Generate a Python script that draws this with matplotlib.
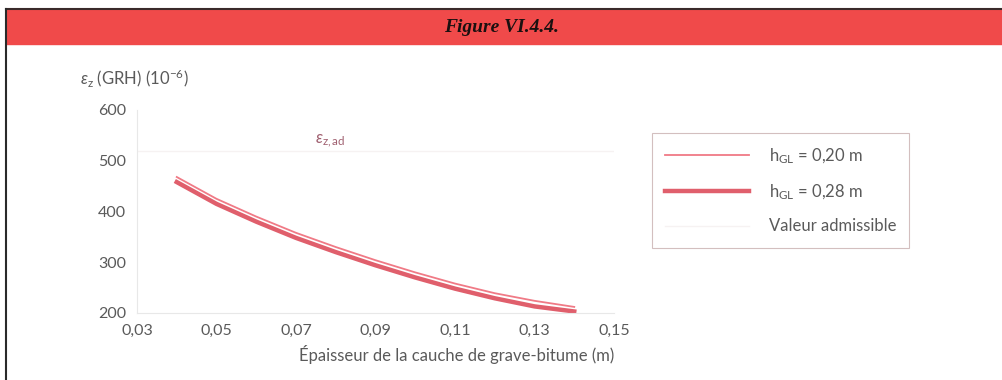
import matplotlib.pyplot as plt
from matplotlib.patches import Rectangle
from matplotlib.lines import Line2D

plt.rcParams['font.family'] = ['Lato', 'DejaVu Sans']
plt.rcParams['mathtext.fontset'] = 'custom'
plt.rcParams['mathtext.rm'] = 'Lato'
plt.rcParams['mathtext.it'] = 'Lato:italic'

# Données
epaisseur = [0.04, 0.05, 0.06, 0.07, 0.08, 0.09, 0.10, 0.11, 0.12, 0.13, 0.14]
eps_020 = [468, 425, 390, 358, 330, 304, 280, 258, 239, 224, 212]
eps_028 = [458, 415, 380, 348, 320, 294, 270, 248, 229, 213, 203]
eps_adm = 520
xticks = [0.03, 0.05, 0.07, 0.09, 0.11, 0.13, 0.15]
yticks = [200, 300, 400, 500, 600]

gris = '#5a5a5a'

fig = plt.figure(figsize=(10.03, 3.8), dpi=100)

# Bandeau de titre
fig.patches.append(Rectangle((6 / 1003, 1 - 44 / 380), 1, 35 / 380,
                             transform=fig.transFigure, color='#f04a4a', zorder=0))
fig.lines.append(Line2D([6 / 1003, 1], [1 - 9 / 380, 1 - 9 / 380],
                        transform=fig.transFigure, color='#3a2a2a', lw=1.5))
fig.lines.append(Line2D([6 / 1003, 6 / 1003], [0, 1 - 9 / 380],
                        transform=fig.transFigure, color='#2a2a2a', lw=1.5))
fig.text(0.5, 1 - 27 / 380, 'Figure VI.4.4.', family='Liberation Serif',
         style='italic', fontweight='bold', fontsize=14, color='#1a1010',
         ha='center', va='center')

ax = fig.add_axes([137 / 1003, 1 - 313 / 380, 477 / 1003, 203 / 380])

ax.plot(epaisseur, eps_020, color='#f07a86', lw=1.3, label=r'h$_{\mathrm{GL}}$ = 0,20 m')
ax.plot(epaisseur, eps_028, color='#e05f6c', lw=3.2, label=r'h$_{\mathrm{GL}}$ = 0,28 m')
ax.axhline(eps_adm, color='#f6f2f2', lw=1, label='Valeur admissible')

ax.set_xlim(0.03, 0.15)
ax.set_ylim(200, 600)
ax.set_xticks(xticks)
ax.set_xticklabels([f'{t:.2f}'.replace('.', ',') for t in xticks])
ax.set_yticks(yticks)
ax.tick_params(length=0, colors=gris, labelsize=11.5, pad=8)
for s in ['top', 'right']:
    ax.spines[s].set_visible(False)
for s in ['left', 'bottom']:
    ax.spines[s].set_color('#e8e8e8')

ax.text(0.0785, 540, r'$\varepsilon_{\mathrm{z,ad}}$', color='#a06070',
        fontsize=12, ha='center', va='center')

fig.text(80 / 1003, 1 - 78 / 380, r'$\varepsilon_{\mathrm{z}}$ (GRH) (10$^{-6}$)',
         color=gris, fontsize=12, ha='left', va='center')
fig.text(614 / 1003, 1 - 355 / 380, 'Épaisseur de la cauche de grave-bitume (m)',
         color=gris, fontsize=12, ha='right', va='center')

leg = ax.legend(loc='upper left', bbox_to_anchor=(652 / 1003, 1 - 133 / 380),
                bbox_transform=fig.transFigure, frameon=True, fancybox=False,
                fontsize=12, labelcolor=gris, handlelength=5, labelspacing=1.0,
                borderpad=0.8, handletextpad=1.2, borderaxespad=0)
leg.get_frame().set_edgecolor('#c8b0b0')
leg.get_frame().set_linewidth(0.8)

plt.savefig('out.png', dpi=100)
plt.close()
